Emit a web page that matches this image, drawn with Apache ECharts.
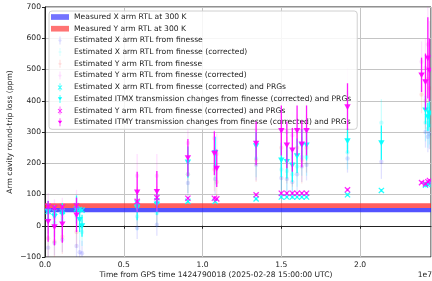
<!DOCTYPE html>
<html>
<head>
<meta charset="utf-8">
<script src="https://cdn.jsdelivr.net/npm/echarts@6/dist/echarts.min.js"></script>
<style>
html, body { margin: 0; padding: 0; background: #fff; }
#chart { width: 432px; height: 281px; }
</style>
</head>
<body>
<div id="chart"></div>
<script>
// time axis in units of 1e7 s
var xTimes = [0.02, 0.06, 0.11, 0.20, 0.22, 0.235, 0.585, 0.71, 0.907, 1.08, 1.34, 1.50, 1.535, 1.57, 1.60, 1.63, 1.66, 1.92, 2.135, 2.415, 2.43, 2.44]
var xRawVals = [-70, -55, -45, -65, -85, -88, -7, 3, 137, 150, 195, 153, 150, 140, 165, 190, 195, 215, 205, 300, 285, 295]
var xRawErrs = [40, 40, 40, 45, 40, 40, 35, 35, 50, 50, 50, 55, 55, 55, 55, 50, 50, 45, 55, 50, 50, 50]
var xCorrVals = [20, 10, 20, 30, 0, -20, 30, 40, 165, 190, 215, 180, 175, 165, 190, 220, 220, 235, 330, 330, 310, 320]
var xCorrErrs = [45, 45, 45, 50, 45, 45, 45, 45, 60, 60, 60, 65, 65, 65, 65, 60, 60, 55, 75, 60, 60, 60]
var xPrgVals = [46, 44, 46, 54, 52, 50, 73, 80, 78, 78, 86, 92, 92, 92, 92, 92, 92, 99, 113, 130, 132, 135]
var xPrgErrs = [4, 4, 4, 4, 4, 4, 4, 4, 4, 4, 4, 4, 4, 4, 4, 4, 4, 4, 4, 4, 4, 4]
var itmxVals = [45, 30, 38, 52, 20, 0, 58, 70, 204, 235, 256, 211, 206, 195, 224, 259, 259, 272, 266, 371, 349, 361]
var itmxErrs = [35, 35, 35, 45, 40, 35, 40, 35, 50, 50, 45, 55, 55, 55, 55, 50, 50, 40, 55, 45, 45, 45]

var yTimes = [0.02, 0.06, 0.11, 0.20, 0.585, 0.71, 0.907, 1.075, 1.09, 1.34, 1.50, 1.535, 1.57, 1.60, 1.63, 1.66, 1.92, 2.39, 2.415, 2.43, 2.44]
var yRawVals = [-40, -50, -35, -20, 60, 62, 165, 180, 140, 210, 250, 210, 195, 250, 210, 250, 320, 420, 400, 470, 440]
var yRawErrs = [60, 55, 55, 50, 65, 65, 60, 70, 60, 70, 80, 75, 70, 80, 75, 80, 75, 60, 90, 120, 100]
var yCorrVals = [40, 25, 30, 60, 160, 160, 265, 280, 230, 310, 350, 300, 290, 350, 305, 350, 425, 525, 505, 580, 545]
var yCorrErrs = [65, 60, 60, 55, 70, 70, 65, 75, 65, 75, 85, 80, 75, 85, 80, 85, 80, 65, 95, 130, 110]
var yPrgVals = [62, 58, 60, 64, 78, 90, 88, 88, 86, 99, 104, 104, 104, 104, 104, 104, 115, 138, 134, 141, 145]
var yPrgErrs = [4, 4, 4, 4, 4, 4, 4, 4, 4, 4, 4, 4, 4, 4, 4, 4, 4, 4, 4, 4, 4]
var itmyVals = [14, -3, 6, 35, 108, 110, 218, 232, 184, 264, 305, 259, 243, 305, 262, 305, 381, 483, 461, 537, 498]
var itmyErrs = [65, 60, 60, 55, 65, 65, 60, 70, 60, 70, 80, 75, 70, 80, 75, 80, 75, 55, 90, 130, 100]

// measured RTL at 300 K, [low, high] in ppm
var bandX = [43, 57]
var bandY = [57, 72]

var xRange = [0, 2.45]
var yRange = [-100, 700]

var names = [
  'Measured X arm RTL at 300 K',
  'Measured Y arm RTL at 300 K',
  'Estimated X arm RTL from finesse',
  'Estimated X arm RTL from finesse (corrected)',
  'Estimated Y arm RTL from finesse',
  'Estimated Y arm RTL from finesse (corrected)',
  'Estimated X arm RTL from finesse (corrected) and PRGs',
  'Estimated ITMX transmission changes from finesse (corrected) and PRGs',
  'Estimated Y arm RTL from finesse (corrected) and PRGs',
  'Estimated ITMY transmission changes from finesse (corrected) and PRGs',
]

var FONT = 'DejaVu Sans'

function markerShape(kind, p, color, opacity) {
  var x = p[0]
  var y = p[1]
  if (kind === 'v') {
    return {
      type: 'polygon',
      shape: { points: [[x - 3.2, y - 2.4], [x + 3.2, y - 2.4], [x, y + 3.2]] },
      style: { fill: color, opacity: opacity },
    }
  }
  if (kind === 'x') {
    return {
      type: 'group',
      children: [
        { type: 'line', shape: { x1: x - 2.6, y1: y - 2.6, x2: x + 2.6, y2: y + 2.6 }, style: { stroke: color, lineWidth: 1.3, opacity: opacity } },
        { type: 'line', shape: { x1: x - 2.6, y1: y + 2.6, x2: x + 2.6, y2: y - 2.6 }, style: { stroke: color, lineWidth: 1.3, opacity: opacity } },
      ],
    }
  }
  return {
    type: 'circle',
    shape: { cx: x, cy: y, r: 2.2 },
    style: { fill: color, opacity: opacity },
  }
}

function errorSeries(name, times, vals, errs, color, marker, opacity, z) {
  var data = times.map(function (t, i) {
    return [t, vals[i], vals[i] - errs[i], vals[i] + errs[i]]
  })
  return {
    name: name,
    type: 'custom',
    z: z,
    clip: true,
    silent: true,
    data: data,
    encode: { x: 0, y: [1, 2, 3] },
    renderItem: function (params, api) {
      var p = api.coord([api.value(0), api.value(1)])
      var lo = api.coord([api.value(0), api.value(2)])
      var hi = api.coord([api.value(0), api.value(3)])
      return {
        type: 'group',
        children: [
          {
            type: 'line',
            shape: { x1: p[0], y1: lo[1], x2: p[0], y2: hi[1] },
            style: { stroke: color, lineWidth: 1.3, opacity: opacity },
          },
          markerShape(marker, p, color, opacity),
        ],
      }
    },
  }
}

function bandSeries(name, band, color, z) {
  return {
    name: name,
    type: 'custom',
    z: z,
    silent: true,
    data: [[band[0], band[1]]],
    encode: { y: [0, 1] },
    renderItem: function (params, api) {
      var a = api.coord([xRange[0], api.value(1)])
      var b = api.coord([xRange[1], api.value(0)])
      return {
        type: 'rect',
        shape: { x: a[0], y: a[1], width: b[0] - a[0], height: b[1] - a[1] },
        style: { fill: color },
      }
    },
  }
}

var bandIcon = 'path://M0,0H19V6H0Z'
var barPath = 'M4.4,0H5.6V14H4.4Z'
var triIcon = 'path://' + barPath + ' M1.2,4.2H8.8L5,10Z'
var crossIcon = 'path://' + barPath + ' M1,4.6L2,3.6L9,10.6L8,11.6Z M8,3.6L9,4.6L2,11.6L1,10.6Z'
var dotIcon = 'path://' + barPath + ' M5,4.6A2.4,2.4 0 1,0 5.01,4.6Z'

var legendIcons = [bandIcon, bandIcon, dotIcon, dotIcon, dotIcon, dotIcon, crossIcon, triIcon, crossIcon, triIcon]
var legendColors = ['#7373ff', '#ff7373', '#c4c4ff', '#c8ffff', '#ffc8c8', '#fcc8ff', '#22ffff', '#00ffff', '#ff22ff', '#ff00ff']

var chart = echarts.init(document.getElementById('chart'), null, { renderer: 'canvas' })
chart.setOption({
  animation: false,
  backgroundColor: '#fff',
  textStyle: { fontFamily: FONT },
  grid: {
    left: 45,
    right: 1,
    top: 7,
    bottom: 24,
    show: true,
    borderColor: '#222',
    borderWidth: 1,
  },
  legend: {
    orient: 'vertical',
    left: 49,
    top: 11,
    padding: [2, 6, 3, 2],
    itemWidth: 18,
    itemHeight: 8,
    itemGap: 3.7,
    backgroundColor: 'rgba(255,255,255,0.85)',
    borderColor: '#d0d0d0',
    borderWidth: 1,
    borderRadius: 3,
    selectedMode: false,
    textStyle: { fontFamily: FONT, fontSize: 7.6, color: '#222', lineHeight: 8, padding: [0, 0, 0, 0] },
    data: names.map(function (n, i) {
      return { name: n, icon: legendIcons[i], itemStyle: { color: legendColors[i], opacity: 1 } }
    }),
  },
  xAxis: {
    type: 'value',
    min: xRange[0],
    max: xRange[1],
    interval: 0.5,
    axisLine: { show: true, lineStyle: { color: '#222' } },
    axisTick: { show: true, length: 3, lineStyle: { color: '#222' } },
    axisLabel: {
      color: '#222',
      fontFamily: FONT,
      fontSize: 7.6,
      margin: 4,
      showMaxLabel: false,
      formatter: function (v) {
        return Math.abs(v / 0.5 - Math.round(v / 0.5)) < 1e-6 ? v.toFixed(1) : ''
      },
    },
    splitLine: { show: true, lineStyle: { color: '#c4c4c4', width: 1 } },
  },
  yAxis: {
    type: 'value',
    min: yRange[0],
    max: yRange[1],
    interval: 100,
    axisLine: { show: true, lineStyle: { color: '#222' } },
    axisTick: { show: true, length: 3, lineStyle: { color: '#222' } },
    axisLabel: {
      color: '#222',
      fontFamily: FONT,
      fontSize: 7.6,
      margin: 4,
      formatter: function (v) {
        return v < 0 ? '\u2212' + Math.abs(v) : String(v)
      },
    },
    splitLine: { show: true, lineStyle: { color: '#c4c4c4', width: 1 } },
  },
  graphic: [
    {
      type: 'text',
      left: 'center',
      top: 271,
      style: { text: 'Time from GPS time 1424790018 (2025-02-28 15:00:00 UTC)', fontFamily: FONT, fontSize: 7.6, fill: '#222' },
    },
    {
      type: 'text',
      right: 0,
      top: 271,
      style: { text: '1e7', fontFamily: FONT, fontSize: 7.6, fill: '#222' },
    },
    {
      type: 'text',
      x: 10,
      y: 132,
      rotation: Math.PI / 2,
      style: { text: 'Arm cavity round-trip loss (ppm)', fontFamily: FONT, fontSize: 7.6, fill: '#222', align: 'center', verticalAlign: 'middle' },
    },
  ],
  series: [
    bandSeries(names[0], bandX, 'rgba(40,40,255,0.8)', 2),
    bandSeries(names[1], bandY, 'rgba(255,40,40,0.75)', 2),
    errorSeries(names[2], xTimes, xRawVals, xRawErrs, '#0000ff', 'o', 0.12, 3),
    errorSeries(names[3], xTimes, xCorrVals, xCorrErrs, '#00ffff', 'o', 0.2, 3),
    errorSeries(names[4], yTimes, yRawVals, yRawErrs, '#ff0000', 'o', 0.1, 3),
    errorSeries(names[5], yTimes, yCorrVals, yCorrErrs, '#ff00ff', 'o', 0.12, 3),
    errorSeries(names[6], xTimes, xPrgVals, xPrgErrs, '#00ffff', 'x', 0.85, 4),
    errorSeries(names[7], xTimes, itmxVals, itmxErrs, '#00ffff', 'v', 0.9, 5),
    errorSeries(names[8], yTimes, yPrgVals, yPrgErrs, '#ff00ff', 'x', 0.85, 6),
    errorSeries(names[9], yTimes, itmyVals, itmyErrs, '#ff00ff', 'v', 0.9, 7),
  ],
})
</script>
</body>
</html>
